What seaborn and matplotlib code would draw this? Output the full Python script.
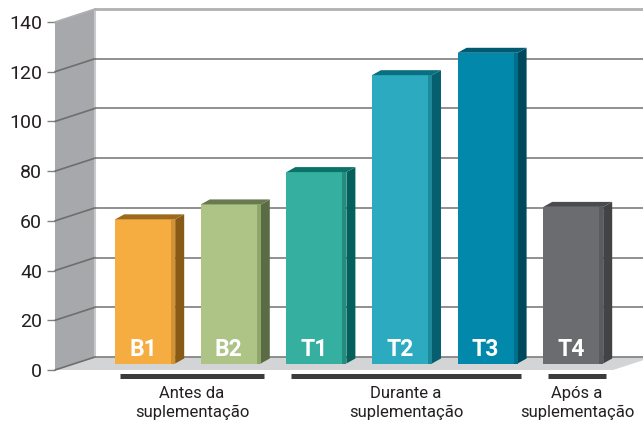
import numpy as np
import pandas as pd
import seaborn as sns
import matplotlib.pyplot as plt
from matplotlib.patches import Polygon, Rectangle

# data
groups = ["B1", "B2", "T1", "T2", "T3", "T4"]
values = [58, 64, 77, 116, 125, 63]
front_colors = ["#F5AC40", "#AEC487", "#35B0A0", "#2BAAC0", "#0188AA", "#6B6C70"]
bevel_colors = ["#D6922F", "#8FA56A", "#228E80", "#1D8A9B", "#006F8C", "#5A5B5E"]
side_colors = ["#875B17", "#5A6B45", "#03605A", "#055F6E", "#00485B", "#424345"]
top_colors = ["#9C6A1E", "#687A4F", "#0B7268", "#0A7080", "#005A72", "#4A4B4D"]
yticks = [0, 20, 40, 60, 80, 100, 120, 140]
periods = ["Antes da\nsuplementação", "Durante a\nsuplementação", "Após a\nsuplementação"]
period_span = [(0, 1), (2, 4), (5, 5)]

sns.set_theme(style="white")
plt.rcParams["font.family"] = ["Roboto", "DejaVu Sans"]

W, H = 643, 422
fig = plt.figure(figsize=(W / 100, H / 100), dpi=100)
ax = fig.add_axes([55 / W, 52 / H, 588 / W, 348 / H])

# pixel -> data units
px_x = 85.6
px_y = 348 / 140
x0 = -0.82
x1 = x0 + 588 / px_x


def off(px, py):
    return px / px_x, py / px_y


bdx, bdy = off(40, 13)   # depth of the back wall
mdx, mdy = bdx / 2, bdy / 2  # plane where the bars stand
edx, edy = off(9, 5)     # bar extrusion
bev = 4 / px_x

df = pd.DataFrame({"group": groups, "value": values})
sns.barplot(data=df, x="group", y="value", hue="group",
            palette=dict(zip(groups, front_colors)), saturation=1,
            width=60 / px_x, legend=False, ax=ax, zorder=3, linewidth=0)

# side wall
ax.add_patch(Polygon([(x0, 0), (x0, 140), (x0 + bdx, 140 + bdy), (x0 + bdx, bdy)],
                     closed=True, fc="#A7A8AB", ec="none", zorder=0.5, clip_on=False))
# floor
fx = x0 + 558 / px_x
ax.add_patch(Polygon([(x0, 0), (fx, 0), (fx + bdx, bdy), (x0 + bdx, bdy)],
                     closed=True, fc="#D3D4D6", ec="none", zorder=1.5, clip_on=False))
# back wall edge
ax.plot([x0 + bdx, x0 + bdx], [bdy, 140 + bdy], color="#C8C8C8", lw=1.5,
        zorder=1, clip_on=False)

# gridlines
for v in yticks:
    top = v == 140
    ax.plot([x0, x0 + bdx], [v, v + bdy], color="#B0B0B0" if top else "#6E6E6E",
            lw=1.2, zorder=2, clip_on=False)
    ax.plot([x0 + bdx, x1 + 1], [v + bdy, v + bdy], color="#B0B0B0" if top else "#7D7D7D",
            lw=2 if top else 1.2, zorder=2, clip_on=False)

# 3d faces of the bars
for p, g, bc, sc, tc in zip(ax.patches[:len(groups)], groups, bevel_colors, side_colors, top_colors):
    p.set_x(p.get_x() + mdx)
    p.set_y(mdy)
    x, w, h, yb = p.get_x(), p.get_width(), p.get_height(), p.get_y()
    ax.add_patch(Rectangle((x + w - bev, yb), bev, h, fc=bc, ec="none", zorder=3.1))
    ax.add_patch(Polygon([(x + w, yb), (x + w + edx, yb + edy), (x + w + edx, yb + h + edy),
                          (x + w, yb + h)], closed=True, fc=sc, ec="none", zorder=3, clip_on=False))
    ax.add_patch(Polygon([(x, yb + h), (x + w, yb + h), (x + w + edx, yb + h + edy),
                          (x + edx, yb + h + edy)], closed=True, fc=tc, ec="none", zorder=3,
                         clip_on=False))
    ax.text(x + (w - bev) / 2, yb + 3.0, g, color="white", fontsize=16.5, fontweight="bold",
            ha="center", va="baseline", zorder=4)

# period labels under the floor
for (i0, i1), lab in zip(period_span, periods):
    a, b = i0 - 0.06, i1 + 0.62
    ax.plot([a, b], [-2.4, -2.4], color="#3B3B3C", lw=3.6, solid_capstyle="butt", clip_on=False)
    ax.text((a + b) / 2, -6.6, lab, ha="center", va="top", fontsize=12, color="#231F20",
            linespacing=1.25, clip_on=False)

ax.set_xlim(x0, x1)
ax.set_ylim(0, 140)
ax.set_yticks(yticks)
ax.set_xticks([])
ax.set_xlabel("")
ax.set_ylabel("")
ax.tick_params(axis="y", left=True, length=5.8, width=1, color="#808080", pad=3.5,
               labelsize=14, labelcolor="#231F20")
for s in ax.spines.values():
    s.set_visible(False)

fig.savefig("out.png", dpi=100)
